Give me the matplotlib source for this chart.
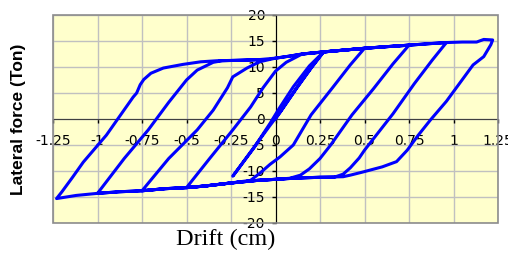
import numpy as np
import matplotlib.pyplot as plt
from matplotlib.patches import Rectangle

plt.rcParams['axes.unicode_minus'] = False

# upper and lower envelopes (drift cm, force ton)
up_x = np.array([-0.42, -0.33, -0.20, -0.10, 0.0, 0.08, 0.15, 0.27, 0.40, 0.50, 0.62, 0.75, 0.87, 0.96, 1.05, 1.13, 1.17, 1.22])
up_y = np.array([11.0, 11.2, 11.3, 11.4, 11.7, 12.1, 12.5, 12.9, 13.3, 13.6, 13.9, 14.2, 14.5, 14.7, 14.8, 14.8, 15.3, 15.2])
low_x = np.array([0.38, 0.25, 0.10, 0.0, -0.10, -0.25, -0.40, -0.50, -0.62, -0.75, -0.88, -1.0, -1.12, -1.23])
low_y = np.array([-11.1, -11.2, -11.4, -11.6, -11.8, -12.3, -12.9, -13.2, -13.4, -13.8, -14.0, -14.3, -14.7, -15.3])

# reloading branches (from negative peak up to upper envelope)
rise_025 = [(-0.24, -11.0), (-0.15, -6.8), (-0.03, -1.2), (0.03, 1.5), (0.12, 6.0), (0.20, 9.8), (0.27, 12.9)]
rise_050 = [(-0.50, -13.2), (-0.37, -7.6), (-0.24, -2.1), (-0.14, 2.3), (-0.07, 6.0), (0.0, 9.2), (0.06, 10.9), (0.15, 12.5)]
rise_075 = [(-0.75, -13.8), (-0.60, -7.6), (-0.44, -2.1), (-0.35, 1.7), (-0.27, 6.0), (-0.24, 8.1), (-0.16, 9.8), (-0.09, 11.0), (0.0, 11.7)]
rise_100 = [(-1.0, -14.3), (-0.85, -7.6), (-0.715, -2.1), (-0.60, 3.2), (-0.50, 7.5), (-0.44, 9.4), (-0.35, 10.9), (-0.30, 11.2)]
rise_125 = [(-1.23, -15.3), (-1.20, -14.0), (-1.14, -11.2), (-1.08, -8.3), (-0.95, -3.1), (-0.87, 0.8), (-0.80, 4.2),
            (-0.78, 5.0), (-0.76, 6.6), (-0.74, 7.6), (-0.70, 8.8), (-0.63, 9.8), (-0.52, 10.5), (-0.42, 11.0)]

# unloading branches (from positive peak down to lower envelope)
fall_025 = [(0.27, 12.9), (0.19, 10.2), (0.10, 6.2), (0.02, 2.0), (-0.03, -0.8), (-0.12, -5.5), (-0.24, -11.0)]
fall_050 = [(0.50, 13.6), (0.42, 10.4), (0.32, 6.0), (0.20, 0.8), (0.10, -5.0), (0.025, -7.3), (-0.03, -8.7), (-0.087, -10.4), (-0.14, -11.8)]
fall_075 = [(0.75, 14.2), (0.66, 10.6), (0.55, 5.8), (0.43, 0.8), (0.31, -5.0), (0.25, -7.6), (0.19, -9.6), (0.14, -10.8), (0.08, -11.4)]
fall_100 = [(0.96, 14.7), (0.88, 11.3), (0.78, 6.8), (0.66, 1.0), (0.58, -2.5), (0.50, -6.0), (0.47, -7.5), (0.42, -9.4), (0.38, -10.6), (0.33, -11.2)]
fall_125 = [(1.22, 15.2), (1.21, 14.3), (1.17, 12.0), (1.11, 10.4), (1.05, 7.6), (0.96, 3.4), (0.87, -0.2), (0.80, -3.2),
            (0.74, -6.0), (0.68, -8.2), (0.60, -9.2), (0.49, -10.2), (0.42, -10.8)]

x_ticks = [-1.25, -1, -0.75, -0.5, -0.25, 0, 0.25, 0.5, 0.75, 1, 1.25]
x_labels = ['-1.25', '-1', '-0.75', '-0.5', '-0.25', '0', '0.25', '0.5', '0.75', '1', '1.25']
y_ticks = [-20, -15, -10, -5, 0, 5, 10, 15, 20]


def upper(a, b):
    m = (up_x > a) & (up_x < b)
    return list(zip(up_x[m], up_y[m]))


def lower(a, b):
    m = (low_x > a) & (low_x < b)
    return list(zip(low_x[m], low_y[m]))


# one continuous load path
path = [(0.0, 0.0)] + [p for p in rise_025 if p[0] > 0]
path += fall_025 + rise_025
path += upper(0.27, 0.50) + fall_050 + lower(-0.50, -0.14) + rise_050
path += upper(0.15, 0.75) + fall_075 + lower(-0.75, 0.08) + rise_075
path += upper(0.0, 0.96) + fall_100 + lower(-1.0, 0.33) + rise_100
path += upper(-0.30, 1.22) + fall_125 + lower(-1.23, 0.42) + rise_125
path += upper(-0.42, 0.0)
drift = np.array([p[0] for p in path])
force = np.array([p[1] for p in path])

fig = plt.figure(figsize=(5.08, 2.56), dpi=100)
ax = fig.add_axes([53 / 508, 33 / 256, 445 / 508, 208 / 256])
ax.set_facecolor('#FFFFCC')
ax.set_xlim(-1.25, 1.25)
ax.set_ylim(-20, 20)

ax.plot(drift, force, color='#0000FF', lw=2.2, zorder=3, solid_joinstyle='round')

ax.set_xticks(x_ticks)
ax.set_xticklabels(x_labels, fontfamily='Liberation Sans', fontsize=8)
ax.set_yticks(y_ticks)
ax.set_yticklabels([str(v) for v in y_ticks], fontfamily='Liberation Sans', fontsize=8)
ax.grid(color='#C0C0C0', lw=1)
ax.tick_params(axis='x', direction='out', length=3, pad=7.6, width=1)
ax.tick_params(axis='y', direction='out', length=3, pad=4.5, width=1)

ax.spines['left'].set_position(('data', 0))
ax.spines['bottom'].set_position(('data', 0))
ax.spines['left'].set_color('black')
ax.spines['bottom'].set_color('#404040')
ax.spines['top'].set_visible(False)
ax.spines['right'].set_visible(False)
ax.add_patch(Rectangle((0, 0), 1, 1, transform=ax.transAxes, fill=False,
                       edgecolor='#8C8C8C', lw=1.2, clip_on=False, zorder=2.6))

fig.text(19 / 508, 1 - 119 / 256, 'Lateral force (Ton)', rotation=90, ha='center', va='center',
         fontfamily='Liberation Sans', fontweight='bold', fontsize=12.5)
fig.text(226 / 508, 1 - 245 / 256, 'Drift (cm)', ha='center', va='baseline',
         fontfamily='Liberation Serif', fontsize=17.5)

fig.savefig('out.png', dpi=100)
